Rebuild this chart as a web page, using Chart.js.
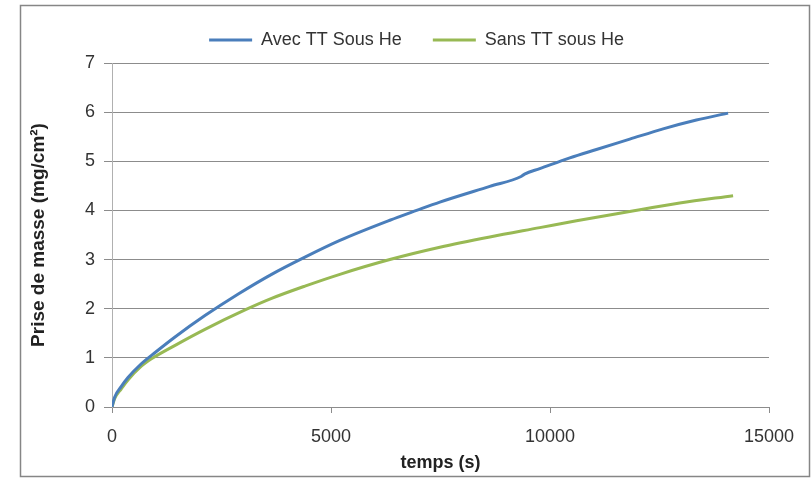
<!DOCTYPE html>
<html>
<head>
<meta charset="utf-8">
<script src="https://cdn.jsdelivr.net/npm/chart.js@4.4.0/dist/chart.umd.min.js"></script>
<style>
  html, body { margin: 0; padding: 0; background: #fff; }
  #wrap { width: 812px; height: 478px; }
</style>
</head>
<body>
<div id="wrap"><canvas id="priseChart" width="812" height="478"></canvas></div>
<script>
// Prise de masse vs temps
const avecTemps = [0, 60, 213, 365, 669, 1000, 1431, 2122, 2883, 3644, 4405, 5203, 6344, 6953, 7485, 8626, 9340, 9420, 9767, 10452, 11060, 11821, 12582, 13343, 14066];
const avecMasse = [0, 0.20, 0.42, 0.60, 0.88, 1.12, 1.42, 1.86, 2.30, 2.70, 3.05, 3.39, 3.80, 4.00, 4.17, 4.49, 4.69, 4.74, 4.85, 5.07, 5.24, 5.45, 5.66, 5.84, 5.98];

const sansTemps = [0, 60, 213, 365, 669, 900, 1431, 2122, 3050, 3644, 4405, 5203, 6344, 7485, 8626, 9767, 10605, 11821, 12962, 14180];
const sansMasse = [0, 0.17, 0.37, 0.55, 0.83, 0.98, 1.25, 1.58, 1.98, 2.21, 2.46, 2.70, 3.00, 3.25, 3.46, 3.65, 3.79, 3.98, 4.15, 4.30];

const xTicks = [0, 5000, 10000, 15000];
const yTicks = [0, 1, 2, 3, 4, 5, 6, 7];

const toPoints = (xs, ys) => xs.map((x, i) => ({ x: x, y: ys[i] }));

const FONT = '"Liberation Sans", Arial, sans-serif';

// fixed legend height, and legend centred on the frame rather than the plot
const legendBox = {
  id: "legendBox",
  beforeInit(chart) {
    if (!chart.legend) return;
    const fit = chart.legend.fit;
    chart.legend.fit = function () {
      fit.call(this);
      this.height = 63;
    };
  },
  afterLayout(chart) {
    if (!chart.legend) return;
    chart.legend.left += 22;
    chart.legend.right += 22;
  }
};

// outer frame round the whole chart
const frame = {
  id: "frame",
  beforeDraw(chart) {
    const c = chart.ctx;
    c.save();
    c.fillStyle = "#fff";
    c.fillRect(0, 0, chart.width, chart.height);
    c.strokeStyle = "#868686";
    c.lineWidth = 1.5;
    c.strokeRect(20.5, 5.5, 789, 471);
    c.restore();
  }
};

new Chart(document.getElementById("priseChart"), {
  type: "line",
  data: {
    datasets: [{
      label: "Avec TT Sous He",
      data: toPoints(avecTemps, avecMasse),
      borderColor: "#4a7ebb",
      backgroundColor: "#4a7ebb",
      borderWidth: 3,
      pointRadius: 0,
      cubicInterpolationMode: "monotone"
    }, {
      label: "Sans TT sous He",
      data: toPoints(sansTemps, sansMasse),
      borderColor: "#98b954",
      backgroundColor: "#98b954",
      borderWidth: 3,
      pointRadius: 0,
      cubicInterpolationMode: "monotone"
    }]
  },
  options: {
    responsive: false,
    animation: false,
    layout: { padding: { left: 20, right: 43, top: 0, bottom: 4 } },
    plugins: {
      legend: {
        position: "top",
        labels: {
          usePointStyle: true,
          pointStyle: "line",
          pointStyleWidth: 43,
          padding: 31,
          color: "#333",
          font: { family: FONT, size: 18 }
        }
      },
      tooltip: { enabled: false }
    },
    scales: {
      x: {
        type: "linear",
        min: 0,
        max: 15000,
        afterFit: s => { s.height = 67; },
        afterBuildTicks: s => { s.ticks = xTicks.map(v => ({ value: v })); },
        ticks: {
          color: "#333",
          font: { family: FONT, size: 18 },
          padding: 13,
          maxRotation: 0,
          callback: v => String(v)
        },
        grid: { drawOnChartArea: false, color: "#8c8c8c", tickLength: 6 },
        border: { color: "#8c8c8c" },
        title: {
          display: true,
          text: "temps (s)",
          color: "#222",
          font: { family: FONT, size: 18, weight: "bold" },
          padding: { top: 4, bottom: 0 }
        }
      },
      y: {
        min: 0,
        max: 7,
        afterFit: s => { s.width = 92; },
        afterBuildTicks: s => { s.ticks = yTicks.map(v => ({ value: v })); },
        ticks: {
          color: "#333",
          font: { family: FONT, size: 18 },
          padding: 9,
          callback: v => String(v)
        },
        grid: { color: "#8c8c8c", tickLength: 8 },
        border: { color: "#b0b0b0" },
        title: {
          display: true,
          text: "Prise de masse (mg/cm²)",
          color: "#222",
          font: { family: FONT, size: 19, weight: "bold" },
          padding: { top: 7, bottom: 4 }
        }
      }
    }
  },
  plugins: [legendBox, frame]
});
</script>
</body>
</html>
